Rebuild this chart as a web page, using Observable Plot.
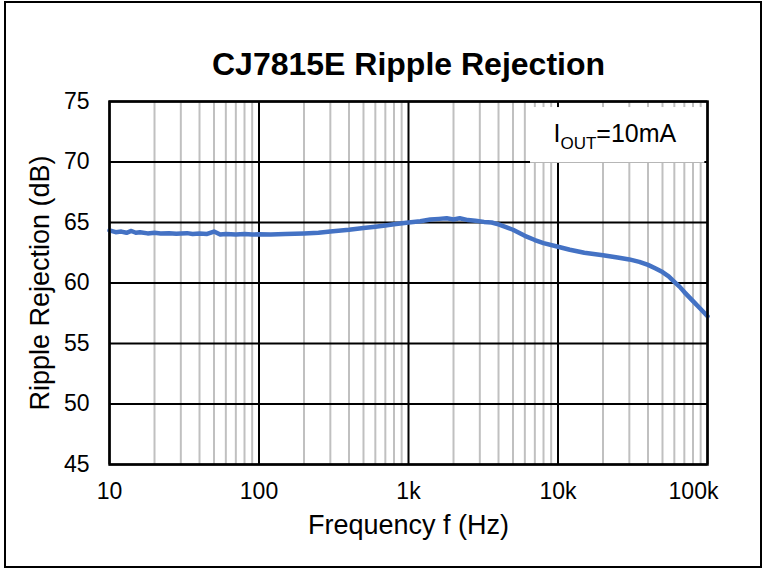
<!DOCTYPE html>
<html><head><meta charset="utf-8">
<script src="https://cdn.jsdelivr.net/npm/d3@7"></script>
<script src="https://cdn.jsdelivr.net/npm/@observablehq/plot@0.6"></script>
<style>body{margin:0;background:#fff;} #chart{width:768px;height:570px;}</style>
</head><body><div id="chart"></div>
<script>
const title = "CJ7815E Ripple Rejection";
const xLabel = "Frequency f (Hz)";
const yLabel = "Ripple Rejection (dB)";
const freq = [10, 11, 12, 13, 14, 15, 16, 18, 20, 22, 25, 28, 30, 33, 36, 40, 45, 50, 55, 60, 70, 80, 90, 100, 120, 150, 200, 250, 300, 400, 500, 600, 700, 800, 1000, 1200, 1400, 1600, 1800, 2000, 2200, 2500, 2800, 3200, 3600, 4000, 5000, 6000, 7000, 8000, 10000, 12000, 15000, 20000, 25000, 30000, 35000, 40000, 45000, 50000, 55000, 60000, 65000, 70000, 80000, 90000, 100000];
const rr = [64.35, 64.2, 64.25, 64.15, 64.3, 64.15, 64.2, 64.1, 64.15, 64.1, 64.12, 64.08, 64.1, 64.12, 64.05, 64.1, 64.05, 64.25, 64.0, 64.05, 64.0, 64.04, 64.0, 64.02, 64.0, 64.04, 64.1, 64.15, 64.25, 64.4, 64.55, 64.65, 64.75, 64.85, 65.0, 65.1, 65.25, 65.3, 65.35, 65.25, 65.35, 65.2, 65.15, 65.05, 65.0, 64.85, 64.4, 63.9, 63.55, 63.3, 63.0, 62.75, 62.5, 62.3, 62.1, 61.95, 61.75, 61.5, 61.2, 60.9, 60.55, 60.1, 59.7, 59.25, 58.5, 57.85, 57.25];
const xTicks = [10, 100, 1000, 10000, 100000];
const xTickLabels = ["10", "100", "1k", "10k", "100k"];
const yTicks = [45, 50, 55, 60, 65, 70, 75];
const minorMultipliers = [2, 3, 4, 5, 6, 7, 8, 9];
const minorTicks = xTicks.slice(0, -1).flatMap(d => minorMultipliers.map(m => d * m));
const legendBox = [{x1: 6550, x2: 96000, y1: 69.9, y2: 74.5}];
const legendPos = [{x: 24000, y: 72.3}];

const data = freq.map((f, i) => ({f, v: rr[i]}));
const font = "Liberation Sans, Arial, sans-serif";
const fmt = d => xTickLabels[xTicks.indexOf(d)];

const plot = Plot.plot({
  width: 768, height: 570,
  marginLeft: 109, marginRight: 61, marginTop: 101, marginBottom: 106,
  style: {fontFamily: font, background: "white", color: "black"},
  x: {type: "log", domain: [10, 100000]},
  y: {domain: [45, 75]},
  marks: [
    Plot.ruleX(minorTicks, {stroke: "#c0c0c0", strokeWidth: 2}),
    Plot.ruleX(xTicks, {stroke: "black", strokeWidth: 2}),
    Plot.ruleY(yTicks, {stroke: "black", strokeWidth: 2}),
    Plot.rect(legendBox, {x1: "x1", x2: "x2", y1: "y1", y2: "y2", fill: "white"}),
    Plot.text(legendPos, {x: "x", y: "y", text: d => "LEGENDTEXT", fontSize: 25, fill: "black"}),
    Plot.line(data, {x: "f", y: "v", stroke: "#4472C4", strokeWidth: 4.5}),
    Plot.frame({stroke: "black", strokeWidth: 2.5}),
    Plot.axisX({ticks: xTicks.slice(0, -1), tickFormat: fmt, tickSize: 0, tickPadding: 18, fontSize: 23, label: null}),
    Plot.axisX({ticks: xTicks.slice(-1), tickFormat: fmt, tickSize: 0, tickPadding: 18, fontSize: 23, label: null, dx: -14}),
    Plot.axisY({ticks: yTicks, tickSize: 0, tickPadding: 20, fontSize: 23, label: null}),
    Plot.text([title], {frameAnchor: "top", dy: -49, fontWeight: "bold", fontSize: 32, fill: "black"}),
    Plot.text([xLabel], {frameAnchor: "bottom", dy: 69, fontSize: 27, fill: "black"}),
    Plot.text([yLabel], {frameAnchor: "left", textAnchor: "middle", dx: -69, rotate: -90, fontSize: 27, fill: "black"})
  ]
});

const svg = d3.select(plot);
const t = svg.selectAll("text").filter(function() { return this.textContent === "LEGENDTEXT"; });
t.text(null);
t.append("tspan").text("I");
t.append("tspan").attr("font-size", 17).attr("dy", 7).text("OUT");
t.append("tspan").attr("dy", -7).text("=10mA");
svg.append("rect").attr("x", 5).attr("y", 2).attr("width", 756).attr("height", 565)
  .attr("fill", "none").attr("stroke", "black").attr("stroke-width", 2);

document.getElementById("chart").appendChild(plot);
</script></body></html>
